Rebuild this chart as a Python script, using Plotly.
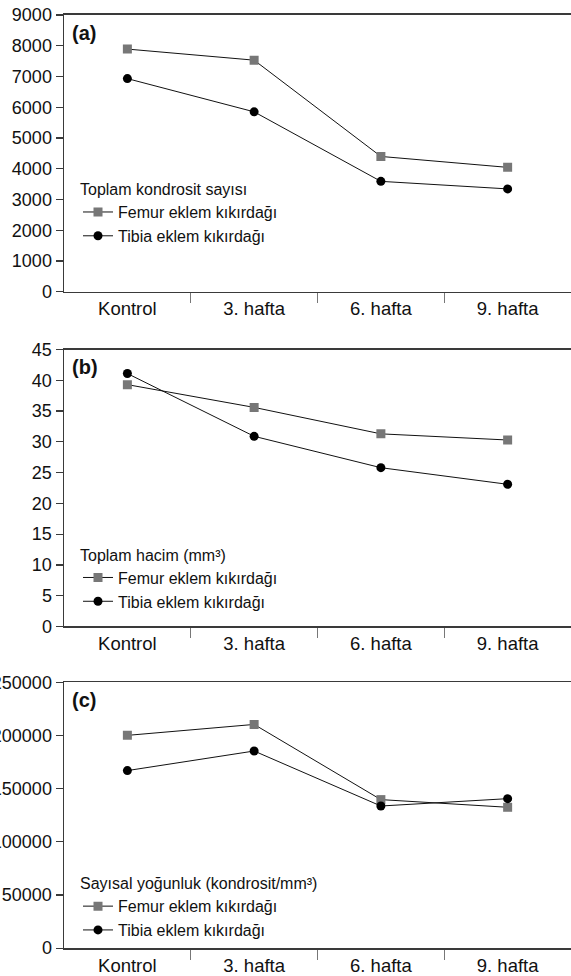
import plotly.graph_objects as go

categories = ["Kontrol", "3. hafta", "6. hafta", "9. hafta"]
series_names = ["Femur eklem kıkırdağı", "Tibia eklem kıkırdağı"]

# (a) Toplam kondrosit sayısı
a_femur = [7890, 7530, 4400, 4045]
a_tibia = [6930, 5850, 3590, 3345]
# (b) Toplam hacim (mm³)
b_femur = [39.3, 35.6, 31.3, 30.3]
b_tibia = [41.1, 30.9, 25.8, 23.1]
# (c) Sayısal yoğunluk (kondrosit/mm³)
c_femur = [200000, 210300, 139600, 132400]
c_tibia = [166900, 185300, 133600, 140500]

panel_titles = ["Toplam kondrosit sayısı", "Toplam hacim (mm³)", "Sayısal yoğunluk (kondrosit/mm³)"]
panel_labels = ["(a)", "(b)", "(c)"]
y_ticks = [
    [0, 1000, 2000, 3000, 4000, 5000, 6000, 7000, 8000, 9000],
    [0, 5, 10, 15, 20, 25, 30, 35, 40, 45],
    [0, 50000, 100000, 150000, 200000, 250000],
]
y_ranges = [[0, 9000], [0, 45], [0, 250000]]

H = 976
W = 571
panel_px = [(15, 293), (351, 629), (685, 952)]
legend_top_px = [175, 542, 872]

FONT = "Liberation Sans, Arial, Helvetica, sans-serif"
AX = "#3a3a3a"

fig = go.Figure()
data = [(a_femur, a_tibia), (b_femur, b_tibia), (c_femur, c_tibia)]
xs = list(range(len(categories)))
for i, (fem, tib) in enumerate(data):
    xa = "x" if i == 0 else f"x{i+1}"
    ya = "y" if i == 0 else f"y{i+1}"
    lg = "legend" if i == 0 else f"legend{i+1}"
    fig.add_trace(go.Scatter(
        x=xs, y=fem, name=series_names[0], mode="lines+markers",
        line=dict(color="#111111", width=1),
        marker=dict(symbol="square", size=9, color="#777777"),
        xaxis=xa, yaxis=ya, legend=lg))
    fig.add_trace(go.Scatter(
        x=xs, y=tib, name=series_names[1], mode="lines+markers",
        line=dict(color="#111111", width=1),
        marker=dict(symbol="circle", size=9, color="#000000"),
        xaxis=xa, yaxis=ya, legend=lg))

layout = dict(
    width=W, height=H,
    margin=dict(l=64, r=0, t=0, b=0),
    paper_bgcolor="white", plot_bgcolor="white",
    font=dict(family=FONT, color="#111111", size=18),
    showlegend=True,
)
annotations = []
for i in range(3):
    top, bot = panel_px[i]
    dom = [1 - bot / H, 1 - top / H]
    xk = "xaxis" if i == 0 else f"xaxis{i+1}"
    yk = "yaxis" if i == 0 else f"yaxis{i+1}"
    xa = "x" if i == 0 else f"x{i+1}"
    ya = "y" if i == 0 else f"y{i+1}"
    layout[xk] = dict(
        domain=[0, 1], anchor=ya, range=[-0.5, 3.5],
        tickvals=xs, ticktext=categories, ticks="",
        showgrid=False, zeroline=False,
        showline=True, linecolor=AX, linewidth=1.5, mirror=True,
        tickfont=dict(size=18.5, family=FONT, color="#111111"),
        minor=dict(tickvals=[0.5, 1.5, 2.5], ticks="outside", ticklen=10,
                   tickcolor="#777777", tickwidth=1, showgrid=False),
        fixedrange=True,
    )
    layout[yk] = dict(
        domain=dom, anchor=xa, range=y_ranges[i], tickvals=y_ticks[i],
        ticktext=[str(v) for v in y_ticks[i]],
        ticks="outside", ticklen=7, tickcolor=AX, tickwidth=1.2,
        showgrid=False, zeroline=False,
        showline=True, linecolor=AX, linewidth=1.5, mirror=False,
        tickfont=dict(size=18, family=FONT, color="#111111"),
        automargin=False, fixedrange=True,
    )
    lk = "legend" if i == 0 else f"legend{i+1}"
    layout[lk] = dict(
        x=(78 - 64) / (W - 64), xanchor="left",
        y=1 - legend_top_px[i] / H, yanchor="top",
        bgcolor="rgba(0,0,0,0)", borderwidth=0,
        font=dict(size=16, family=FONT, color="#111111"),
        title=dict(text=panel_titles[i], font=dict(size=16, family=FONT, color="#111111")),
        tracegroupgap=0, itemwidth=30,
    )
    annotations.append(dict(
        text="<b>" + panel_labels[i] + "</b>", xref=f"{xa} domain", yref=f"{ya} domain",
        x=0.012, y=1 - 18 / (bot - top), xanchor="left", yanchor="middle",
        showarrow=False, font=dict(size=20, family=FONT, color="#111111"),
    ))
layout["annotations"] = annotations
fig.update_layout(**layout)
fig.write_html(
    "out.html",
    config={"displayModeBar": False, "staticPlot": True},
    post_script="document.body.style.margin='0';document.body.style.overflow='hidden';",
)
